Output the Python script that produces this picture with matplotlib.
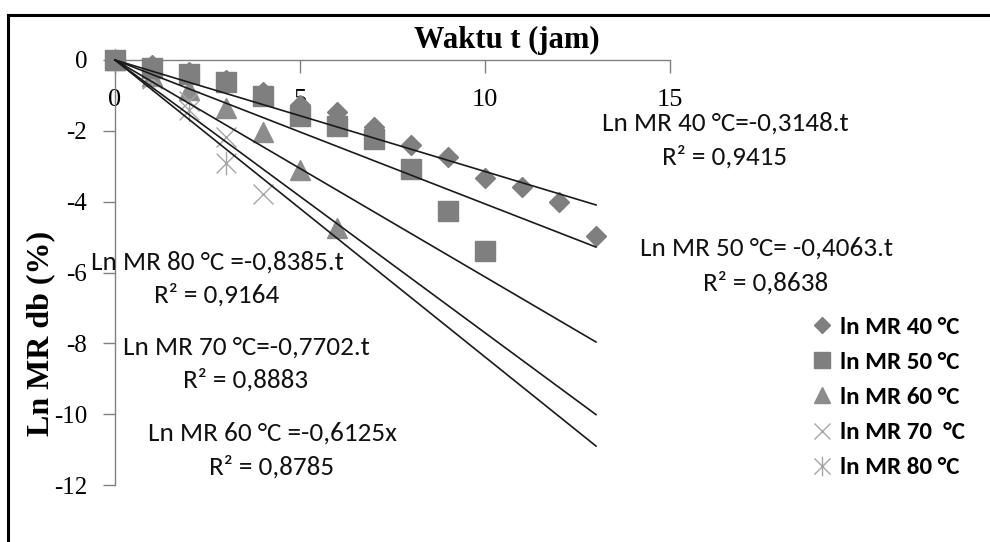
import matplotlib
matplotlib.use("Agg")
import matplotlib.pyplot as plt
from matplotlib import font_manager
from matplotlib.lines import Line2D
from matplotlib.path import Path
import numpy as np

plt.rcParams["axes.unicode_minus"] = False

# data
t40 = [0, 1, 2, 3, 4, 5, 6, 7, 8, 9, 10, 11, 12, 13]
ln40 = [0, -0.14, -0.35, -0.56, -0.9, -1.27, -1.47, -1.89, -2.4, -2.74, -3.34, -3.6, -4.0, -4.97]
t50 = [0, 1, 2, 3, 4, 5, 6, 7, 8, 9, 10]
ln50 = [0, -0.23, -0.4, -0.63, -1.02, -1.58, -1.86, -2.23, -3.08, -4.26, -5.39]
t60 = [0, 1, 2, 3, 4, 5, 6]
ln60 = [0, -0.45, -0.85, -1.36, -2.02, -3.1, -4.75]
t70 = [0, 1, 2, 3, 4]
ln70 = [0, -0.5, -1.15, -2.17, -3.77]
t80 = [0, 1, 2, 3]
ln80 = [0, -0.55, -1.41, -2.9]

slopes = [-0.3148, -0.4063, -0.6125, -0.7702, -0.8385]
legend_labels = ["ln MR 40 °C", "ln MR 50 °C", "ln MR 60 °C", "ln MR 70  °C", "ln MR 80 °C"]
eq_texts = [
    ("Ln MR 40 °C=-0,3148.t", "R² = 0,9415"),
    ("Ln MR 50 °C= -0,4063.t", "R² = 0,8638"),
    ("Ln MR 60 °C =-0,6125x", "R² = 0,8785"),
    ("Ln MR 70 °C=-0,7702.t", "R² = 0,8883"),
    ("Ln MR 80 °C =-0,8385.t", "R² = 0,9164"),
]
x_ticks = [0, 5, 10, 15]
y_ticks = [0, -2, -4, -6, -8, -10, -12]


def pick_font(names):
    for name in names:
        try:
            font_manager.findfont(name, fallback_to_default=False)
            return name
        except ValueError:
            continue
    return "DejaVu Sans"


sans = pick_font(["Carlito", "Lato", "Open Sans"])
serif = pick_font(["Liberation Serif", "DejaVu Serif"])

# Excel style asterisk: an x with a vertical bar
star_path = Path(
    [(-0.5, -0.5), (0.5, 0.5), (-0.5, 0.5), (0.5, -0.5), (0, -0.6), (0, 0.6)],
    [Path.MOVETO, Path.LINETO, Path.MOVETO, Path.LINETO, Path.MOVETO, Path.LINETO],
)

fig = plt.figure(figsize=(9.9, 5.42), dpi=100)
ax = fig.add_axes([115 / 990, 1 - 485 / 542, 555 / 990, 425 / 542])

grey = "#7f7f7f"
ax.plot(t40, ln40, ls="none", marker="D", ms=10, color=grey, mec=grey, zorder=3)
ax.plot(t50, ln50, ls="none", marker="s", ms=14, color=grey, mec=grey, zorder=4)
ax.plot(t60, ln60, ls="none", marker="^", ms=14, color="#8c8c8c", mec="#8c8c8c", zorder=3)
ax.plot(t70, ln70, ls="none", marker="x", ms=14, mew=1.0, color="#a6a6a6", zorder=3)
ax.plot(t80, ln80, ls="none", marker=star_path, ms=17, mew=1.0, color="#a6a6a6", zorder=3)

t_fit = np.array([0, 13])
for k in slopes:
    ax.plot(t_fit, k * t_fit, color="#1a1a1a", lw=1.2, zorder=5)

ax.set_xlim(0, 15)
ax.set_ylim(-12, 0)
ax.set_xticks(x_ticks)
ax.set_yticks(y_ticks)
ax.spines["top"].set_visible(False)
ax.spines["right"].set_visible(False)
ax.spines["bottom"].set_position(("data", 0))
for side in ("bottom", "left"):
    ax.spines[side].set_color("#808080")
    ax.spines[side].set_linewidth(1.0)
ax.spines["bottom"].set_zorder(1)
ax.tick_params(axis="x", direction="out", length=9, width=1, color="#808080", pad=12,
               labelsize=19)
ax.tick_params(axis="y", direction="out", length=9, width=1, color="#808080", pad=11,
               labelsize=18)
for lab in ax.get_xticklabels() + ax.get_yticklabels():
    lab.set_fontfamily(serif)
ax.patch.set_alpha(0)
for line in ax.lines:
    line.set_clip_on(False)

# equation annotations, positions in figure pixels
eq_pos = [(725, 123, 157), (766, 248, 283), (272, 433, 467), (246, 347, 380), (217, 262, 295)]
for (eq, r2), (px, py1, py2) in zip(eq_texts, eq_pos):
    fig.text(px / 990, 1 - py1 / 542, eq, ha="center", va="center", fontsize=19.5,
             family=sans, color="#111111")
    fig.text(px / 990, 1 - py2 / 542, r2, ha="center", va="center", fontsize=19.5,
             family=sans, color="#111111")

fig.text(507 / 990, 1 - 40 / 542, "Waktu t (jam)", ha="center", va="center",
         fontsize=22, fontweight="bold", family=serif)
fig.text(41 / 990, 1 - 333 / 542, "Ln MR db (%)", ha="center", va="center",
         rotation=90, fontsize=23, fontweight="bold", family=serif)

handles = [
    Line2D([], [], ls="none", marker="D", ms=8, color=grey),
    Line2D([], [], ls="none", marker="s", ms=12, color=grey),
    Line2D([], [], ls="none", marker="^", ms=12, color="#8c8c8c"),
    Line2D([], [], ls="none", marker="x", ms=12, mew=1.0, color="#a6a6a6"),
    Line2D([], [], ls="none", marker=star_path, ms=14, mew=1.0, color="#a6a6a6"),
]
fig.legend(handles, legend_labels, loc="upper left", bbox_to_anchor=(802 / 990, 1 - 306 / 542),
           frameon=False, handlelength=0.8, handletextpad=0.3, labelspacing=0.55,
           prop={"family": sans, "size": 18, "weight": "semibold"}, borderaxespad=0)

# chart border, runs off the right and bottom edge
fig.add_artist(Line2D([8 / 990, 8 / 990], [0, 1 - 15 / 542], color="black", lw=2.2))
fig.add_artist(Line2D([8 / 990, 1], [1 - 15 / 542, 1 - 15 / 542], color="black", lw=2.2))

fig.savefig("out.png", dpi=100)
